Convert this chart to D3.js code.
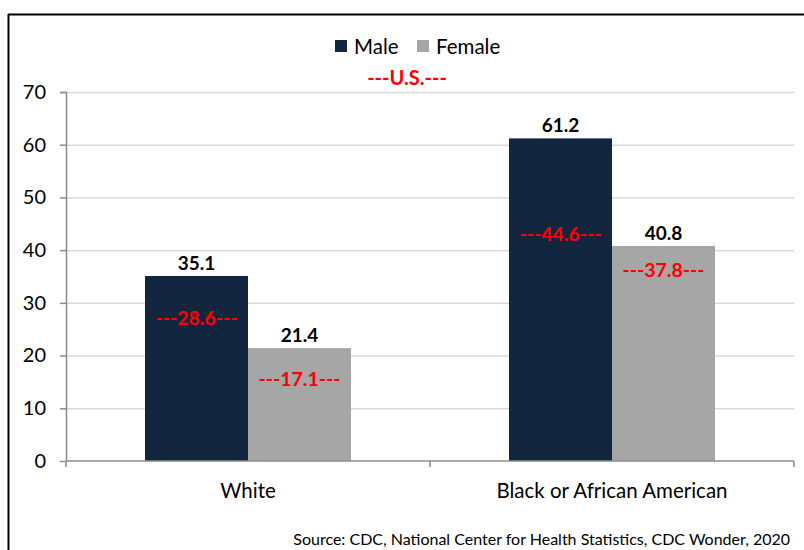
<!DOCTYPE html>
<html>
<head>
<meta charset="utf-8">
<script src="https://cdn.jsdelivr.net/npm/d3@7"></script>
<style>
  html, body { margin: 0; padding: 0; background: #fff; }
  svg { display: block; font-family: Lato, "Open Sans", sans-serif; }
</style>
</head>
<body>
<svg id="chart" width="804" height="550"></svg>
<script>
// Death rates by race and sex, with the U.S. overall rate for each group
const categories = ["White", "Black or African American"];
const seriesNames = ["Male", "Female"];
const maleValues = [35.1, 61.2];
const femaleValues = [21.4, 40.8];
const usMaleValues = [28.6, 44.6];
const usFemaleValues = [17.1, 37.8];
const yTicks = [0, 10, 20, 30, 40, 50, 60, 70];
const colors = { Male: "#13263f", Female: "#a6a6a6" };

const svg = d3.select("#chart");
const margin = { left: 66, right: 10, top: 92, bottom: 89 };
const width = 794 - margin.left;
const height = 461 - margin.top;

// outer frame (only left and top edges fall inside the view)
svg.append("line").attr("x1", 8.5).attr("x2", 8.5).attr("y1", 14).attr("y2", 550)
  .attr("stroke", "#000").attr("stroke-width", 2);
svg.append("line").attr("x1", 8).attr("x2", 804).attr("y1", 14.5).attr("y2", 14.5)
  .attr("stroke", "#000").attr("stroke-width", 2);

const g = svg.append("g").attr("transform", `translate(${margin.left},${margin.top})`);

const x0 = d3.scaleBand().domain(categories).range([0, width]).paddingInner(0).paddingOuter(0);
const x1 = d3.scaleBand().domain(seriesNames).range([79, x0.bandwidth() - 79]);
const y = d3.scaleLinear().domain([0, 70]).range([height, 0]);

// horizontal gridlines
g.append("g").selectAll("line").data(yTicks.filter(d => d > 0)).join("line")
  .attr("x1", 0).attr("x2", width)
  .attr("y1", d => y(d) + 0.5).attr("y2", d => y(d) + 0.5)
  .attr("stroke", "#d9d9d9").attr("stroke-width", 1.5);

// bars
const rows = categories.map((c, i) => ({
  category: c,
  items: [
    { series: "Male", value: maleValues[i], us: usMaleValues[i] },
    { series: "Female", value: femaleValues[i], us: usFemaleValues[i] }
  ]
}));

const groups = g.selectAll(".grp").data(rows).join("g")
  .attr("class", "grp")
  .attr("transform", d => `translate(${x0(d.category)},0)`);

groups.selectAll("rect").data(d => d.items).join("rect")
  .attr("x", d => x1(d.series))
  .attr("width", x1.bandwidth())
  .attr("y", d => y(d.value))
  .attr("height", d => height - y(d.value))
  .attr("fill", d => colors[d.series]);

// value labels above bars
groups.selectAll(".val").data(d => d.items).join("text")
  .attr("class", "val")
  .attr("x", d => x1(d.series) + x1.bandwidth() / 2)
  .attr("y", d => y(d.value) - 6)
  .attr("text-anchor", "middle")
  .attr("font-size", 19).attr("font-weight", 700).attr("fill", "#000")
  .text(d => d.value.toFixed(1));

// U.S. reference labels inside bars
groups.selectAll(".us").data(d => d.items).join("text")
  .attr("class", "us")
  .attr("x", d => x1(d.series) + x1.bandwidth() / 2)
  .attr("y", d => y(d.us) + 15)
  .attr("text-anchor", "middle")
  .attr("font-size", 19.5).attr("font-weight", 700).attr("fill", "#ff0000")
  .text(d => `---${d.us.toFixed(1)}---`);

// y axis
const yAxis = g.append("g").call(d3.axisLeft(y).tickValues(yTicks).tickSize(6).tickPadding(14).tickFormat(d3.format("d")));
yAxis.select(".domain").attr("stroke", "#8c8c8c").attr("stroke-width", 1.5).attr("d", `M-6,0.5H0.5V${height}`);
yAxis.selectAll(".tick line").attr("stroke", "#8c8c8c").attr("stroke-width", 1.5);
yAxis.selectAll(".tick text").attr("font-size", 20).attr("fill", "#000").attr("font-family", "Lato, sans-serif");

// x axis with ticks between categories
const xAxis = g.append("g").attr("transform", `translate(0,${height})`);
xAxis.append("line").attr("x1", 0).attr("x2", width).attr("y1", 0).attr("y2", 0)
  .attr("stroke", "#8c8c8c").attr("stroke-width", 1.5);
const boundaries = [0].concat(categories.map(c => x0(c) + x0.bandwidth()));
xAxis.selectAll(".xt").data(boundaries).join("line")
  .attr("x1", d => d).attr("x2", d => d).attr("y1", 0).attr("y2", 6)
  .attr("stroke", "#8c8c8c").attr("stroke-width", 1.5);
xAxis.selectAll(".cat").data(categories).join("text")
  .attr("x", d => x0(d) + x0.bandwidth() / 2)
  .attr("y", 37)
  .attr("text-anchor", "middle")
  .attr("font-size", 20.5).attr("fill", "#000")
  .text(d => d);

// legend
const legend = svg.append("g");
const legendItems = [{ name: "Male", x: 335 }, { name: "Female", x: 417 }];
legendItems.forEach(it => {
  legend.append("rect").attr("x", it.x).attr("y", 40).attr("width", 12).attr("height", 12)
    .attr("fill", colors[it.name]);
  legend.append("text").attr("x", it.x + 19).attr("y", 54)
    .attr("font-size", 20.5).attr("fill", "#000").text(it.name);
});

// U.S. subtitle
svg.append("text").attr("x", 407).attr("y", 85)
  .attr("text-anchor", "middle").attr("font-size", 20).attr("font-weight", 700)
  .attr("fill", "#ff0000").text("---U.S.---");

// source note
svg.append("text").attr("x", 790).attr("y", 545)
  .attr("text-anchor", "end").attr("font-size", 16).attr("fill", "#000")
  .text("Source: CDC, National Center for Health Statistics, CDC Wonder, 2020");
</script>
</body>
</html>
